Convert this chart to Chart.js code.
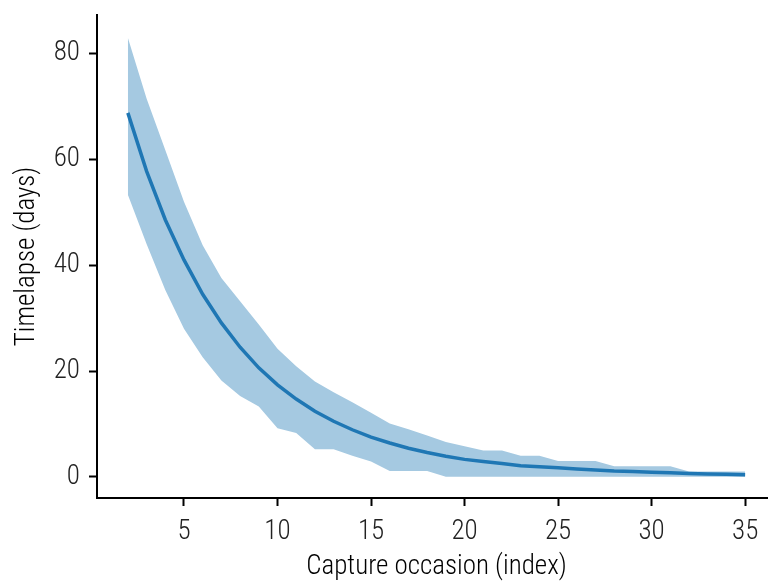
<!DOCTYPE html>
<html>
<head>
<meta charset="utf-8">
<script src="https://cdn.jsdelivr.net/npm/chart.js@4/dist/chart.umd.min.js"></script>
<style>
html, body { margin: 0; padding: 0; background: #ffffff; overflow: hidden; }
#wrap { width: 768px; height: 581px; overflow: hidden; }
canvas { display: block; }
</style>
</head>
<body>
<div id="wrap"><canvas id="c" width="776" height="581"></canvas></div>
<script>
// Capture occasion index
const occasions = [2, 3, 4, 5, 6, 7, 8, 9, 10, 11, 12, 13, 14, 15, 16, 17, 18,
                   19, 20, 21, 22, 23, 24, 25, 26, 27, 28, 29, 30, 31, 32, 33, 34, 35];
// Mean timelapse (days)
const meanDays = [68.8, 57.8, 48.6, 41.0, 34.5, 29.1, 24.5, 20.6, 17.4, 14.7, 12.4, 10.5,
                  8.9, 7.5, 6.4, 5.4, 4.6, 3.9, 3.3, 2.9, 2.5, 2.1, 1.9, 1.7, 1.5, 1.3,
                  1.1, 1.0, 0.85, 0.75, 0.65, 0.55, 0.47, 0.4];
// Upper bound of the interval (days)
const upperDays = [83.0, 71.5, 61.8, 52.0, 43.8, 37.6, 33.2, 28.8, 24.2, 20.9, 18.0, 16.0,
                   14.1, 12.1, 10.1, 9.0, 7.8, 6.6, 5.8, 5.0, 5.0, 4.0, 4.0, 3.0, 3.0, 3.0,
                   2.0, 2.0, 2.0, 2.0, 1.0, 1.0, 1.0, 1.0];
// Lower bound of the interval (days)
const lowerDays = [53.3, 44.0, 35.3, 28.0, 22.6, 18.2, 15.3, 13.3, 9.2, 8.3, 5.2, 5.2,
                   4.0, 2.9, 1.1, 1.1, 1.1, 0, 0, 0, 0, 0, 0, 0, 0, 0,
                   0, 0, 0, 0, 0, 0, 0, 0];
const xTicks = [5, 10, 15, 20, 25, 30, 35];
const yTicks = [0, 20, 40, 60, 80];
const xTitle = 'Capture occasion (index)';
const yTitle = 'Timelapse (days)';

const pts = (ys) => occasions.map((x, i) => ({ x: x, y: ys[i] }));
const FAMILY = "'Roboto Condensed', 'Liberation Sans Narrow', 'DejaVu Sans Condensed', sans-serif";
const tickFont = { family: FAMILY, size: 27, weight: '300' };
const titleFont = { family: FAMILY, size: 27, weight: '300', lineHeight: 1.0 };

new Chart(document.getElementById('c'), {
  type: 'line',
  data: {
    datasets: [
      {
        label: 'mean',
        data: pts(meanDays),
        borderColor: '#1f77b4',
        borderWidth: 3.5,
        pointRadius: 0,
        fill: false,
        tension: 0,
        order: 0
      },
      {
        label: 'upper',
        data: pts(upperDays),
        borderWidth: 0,
        borderColor: 'rgba(0,0,0,0)',
        backgroundColor: 'rgb(165,201,225)',
        pointRadius: 0,
        fill: { target: 2 },
        tension: 0,
        order: 1
      },
      {
        label: 'lower',
        data: pts(lowerDays),
        borderWidth: 0,
        borderColor: 'rgba(0,0,0,0)',
        pointRadius: 0,
        fill: false,
        tension: 0,
        order: 2
      }
    ]
  },
  options: {
    responsive: false,
    animation: false,
    devicePixelRatio: 1,
    layout: { padding: { left: 0, top: 15, right: 0, bottom: 0 } },
    plugins: { legend: { display: false }, tooltip: { enabled: false } },
    scales: {
      x: {
        type: 'linear',
        min: 0.35,
        max: 36.65,
        afterBuildTicks: (s) => { s.ticks = xTicks.map(v => ({ value: v })); },
        afterFit: (s) => { s.height = 83; s.paddingLeft = 0; s.paddingRight = 0; },
        grid: { display: true, drawOnChartArea: false, drawTicks: true, tickLength: 8, tickWidth: 2, tickColor: '#000' },
        border: { display: true, color: '#000', width: 2 },
        ticks: { font: tickFont, color: '#222', padding: 10, maxRotation: 0, autoSkip: false },
        title: { display: true, text: xTitle, font: titleFont, color: '#000', padding: { top: 0, bottom: 0 } }
      },
      y: {
        type: 'linear',
        min: -4.0,
        max: 87.3,
        afterBuildTicks: (s) => { s.ticks = yTicks.map(v => ({ value: v })); },
        afterFit: (s) => { s.width = 97; s.paddingTop = 0; s.paddingBottom = 0; },
        grid: { display: true, drawOnChartArea: false, drawTicks: true, tickLength: 8, tickWidth: 2, tickColor: '#000' },
        border: { display: true, color: '#000', width: 2 },
        ticks: { font: tickFont, color: '#222', padding: 9, autoSkip: false },
        title: { display: true, text: yTitle, font: titleFont, color: '#000', padding: { top: 13.5, bottom: 0 } }
      }
    }
  }
});
</script>
</body>
</html>
